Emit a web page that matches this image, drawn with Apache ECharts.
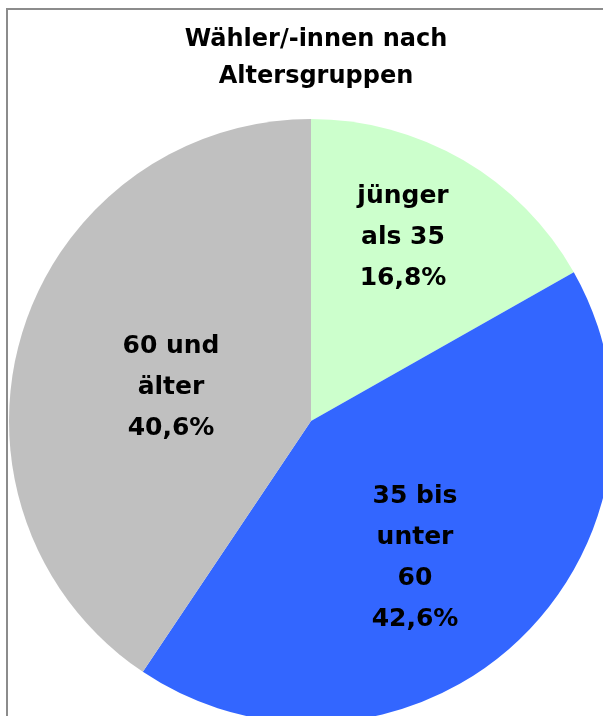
<!DOCTYPE html>
<html>
<head>
<meta charset="utf-8">
<script src="https://cdn.jsdelivr.net/npm/echarts@6/dist/echarts.min.js"></script>
<style>
  html, body { margin: 0; padding: 0; background: #fff; }
  #myChart { width: 603px; height: 716px; }
</style>
</head>
<body>
<div id="myChart"></div>
<script>
// Daten
var categories = ['jünger\nals 35', '35 bis\nunter\n60', '60 und\nälter'];
var values = [16.8, 42.6, 40.6];
var labels = ['16,8%', '42,6%', '40,6%'];
var colors = ['#ccffcc', '#3366ff', '#c0c0c0'];

// Label-Positionen (Pixel)
var labelPos = [[403, 237], [415, 558], [171, 387]];

var chart = echarts.init(document.getElementById('myChart'));
chart.setOption({
  animation: false,
  title: {
    text: 'Wähler/-innen nach\nAltersgruppen',
    left: 311,
    textAlign: 'center',
    top: 16,
    textStyle: {
      fontFamily: 'DejaVu Sans',
      fontWeight: 'bold',
      fontSize: 24,
      lineHeight: 37,
      color: '#000'
    }
  },
  graphic: [{
    type: 'rect',
    shape: { x: 7, y: 9, width: 800, height: 900 },
    style: { fill: 'none', stroke: '#8c8c8c', lineWidth: 2 },
    z: -1
  }],
  series: [{
    type: 'pie',
    center: [311, 421],
    radius: 302,
    startAngle: 90,
    clockwise: true,
    silent: true,
    label: {
      position: 'inside',
      formatter: function (p) {
        return p.name + '\n' + labels[p.dataIndex];
      },
      fontFamily: 'DejaVu Sans',
      fontWeight: 'bold',
      fontSize: 25,
      lineHeight: 41,
      color: '#000',
      align: 'center'
    },
    labelLine: { show: false },
    labelLayout: function (params) {
      var p = labelPos[params.dataIndex];
      return { x: p[0], y: p[1], align: 'center', verticalAlign: 'middle' };
    },
    itemStyle: { borderWidth: 0 },
    data: categories.map(function (c, i) {
      return { name: c, value: values[i], itemStyle: { color: colors[i] } };
    })
  }]
});
</script>
</body>
</html>
